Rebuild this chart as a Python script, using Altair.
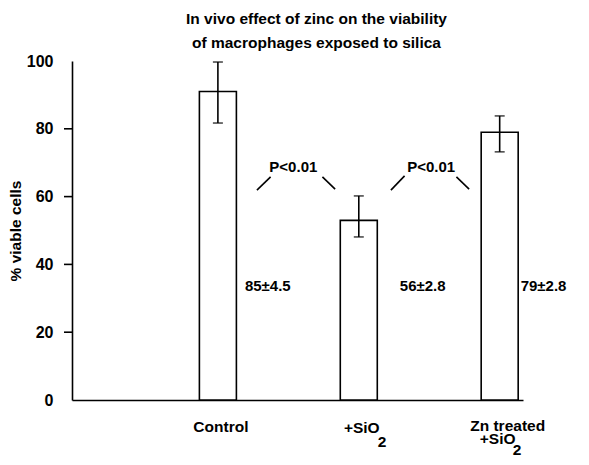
import altair as alt
import pandas as pd

# ---- data ----
categories = ["Control", "+SiO2", "Zn treated +SiO2"]
group_pos = [1, 2, 3]
means = [91, 53, 79]
err_low = [81.7, 48.1, 73.2]
err_high = [99.7, 60.2, 83.8]
value_labels = ["85±4.5", "56±2.8", "79±2.8"]
p_labels = ["P<0.01", "P<0.01"]
y_label_values = [0, 20, 40, 60, 80, 100]
y_tick_values = [20, 40, 60, 80]

FONT = "Liberation Sans"

df = pd.DataFrame({
    "cat": categories,
    "pos": group_pos,
    "mean": means,
    "lo": err_low,
    "hi": err_high,
    "label": value_labels,
})

x_scale = alt.Scale(domain=[0, 3.13], nice=False, zero=False)
y_scale = alt.Scale(domain=[0, 100], nice=False)

base = alt.Chart(df)

bars = base.mark_bar(fill="white", stroke="black", strokeWidth=1.6, size=37, orient="vertical").encode(
    x=alt.X("pos:Q", scale=x_scale,
            axis=alt.Axis(labels=False, ticks=False, title=None, grid=False,
                          domainColor="black", domainWidth=1.6)),
    y=alt.Y("mean:Q", scale=y_scale,
            axis=alt.Axis(values=y_label_values, ticks=False, grid=False,
                          title="% viable cells", labelFont=FONT, labelFontSize=16,
                          labelFontWeight="bold", labelColor="black", labelPadding=19,
                          domainColor="black", domainWidth=1.6,
                          titleFont=FONT, titleFontSize=15.5, titleFontWeight="bold",
                          titleColor="black", titlePadding=3)),
)

err_rule = base.mark_rule(color="black", strokeWidth=1.6).encode(
    x="pos:Q", y="lo:Q", y2="hi:Q")
cap_lo = base.mark_tick(orient="horizontal", size=10, thickness=1.6, color="black").encode(
    x="pos:Q", y="lo:Q")
cap_hi = base.mark_tick(orient="horizontal", size=10, thickness=1.6, color="black").encode(
    x="pos:Q", y="hi:Q")

yticks = alt.Chart(pd.DataFrame({"v": y_tick_values})).mark_rule(color="black", strokeWidth=1.6).encode(
    y=alt.Y("v:Q", scale=y_scale), x=alt.value(-8), x2=alt.value(0))

layers = [bars, err_rule, cap_lo, cap_hi, yticks]

# value annotations to the right of each bar
label_level = 33.6
label_dx = [27, 41, 21]
for i in range(3):
    layers.append(
        alt.Chart(df.iloc[[i]]).mark_text(align="left", baseline="middle", dx=label_dx[i],
                                          font=FONT, fontSize=15, fontWeight="bold", color="black")
        .encode(x="pos:Q", y=alt.datum(label_level), text="label:N"))

# significance annotations between neighbouring bars
p_level = 68.7
p_dx = [5, 2]
seg_offsets = [[(-0.223, 61.9, -0.126, 65.8), (0.242, 65.8, 0.332, 62.2)],
               [(-0.272, 61.9, -0.175, 66.1), (0.193, 65.8, 0.283, 62.2)]]
segs = []
for k in range(2):
    mid = (group_pos[k] + group_pos[k + 1]) / 2
    layers.append(
        alt.Chart(pd.DataFrame({"m": [mid], "t": [p_labels[k]]})).mark_text(
            align="center", baseline="middle", dx=p_dx[k], font=FONT, fontSize=15,
            fontWeight="bold", color="black")
        .encode(x="m:Q", y=alt.datum(p_level), text="t:N"))
    for (a, ya, b, yb) in seg_offsets[k]:
        segs.append({"x": mid + a, "y": ya, "x2": mid + b, "y2": yb})
layers.append(
    alt.Chart(pd.DataFrame(segs)).mark_rule(color="black", strokeWidth=1.6).encode(
        x="x:Q", y="y:Q", x2="x2:Q", y2="y2:Q"))

# category labels below the axis
def cat_text(pos, text, dx, dy, align="center"):
    return alt.Chart(pd.DataFrame({"p": [pos], "t": [text]})).mark_text(
        align=align, baseline="alphabetic", dx=dx, dy=dy, font=FONT, fontSize=15.5,
        fontWeight="bold", color="black").encode(
            x="p:Q", y=alt.datum(0), text="t:N")

layers += [
    cat_text(1, "Control", 3, 32),
    cat_text(2, "+SiO", 3, 33),
    cat_text(2, "2", 19, 47, align="left"),
    cat_text(3, "Zn treated", 8, 31),
    cat_text(3, "+SiO", -2, 44),
    cat_text(3, "2", 13, 55, align="left"),
]

chart = alt.layer(*layers).properties(
    width=451, height=339,
    background="white",
    autosize=alt.AutoSizeParams(type="none"),
    padding={"left": 64, "top": 53, "right": 56, "bottom": 57},
    title=alt.TitleParams(
        ["In vivo effect of zinc on the viability", "of macrophages exposed to silica"],
        font=FONT, fontSize=15.5, fontWeight="bold", color="black", anchor="middle",
        dx=19, lineHeight=24, offset=2, frame="group"),
).configure(
    view=alt.ViewConfig(strokeWidth=0, stroke=None),
    axis=alt.AxisConfig(grid=False),
)

chart.save("out.html", embed_options={"renderer": "svg", "actions": False})
